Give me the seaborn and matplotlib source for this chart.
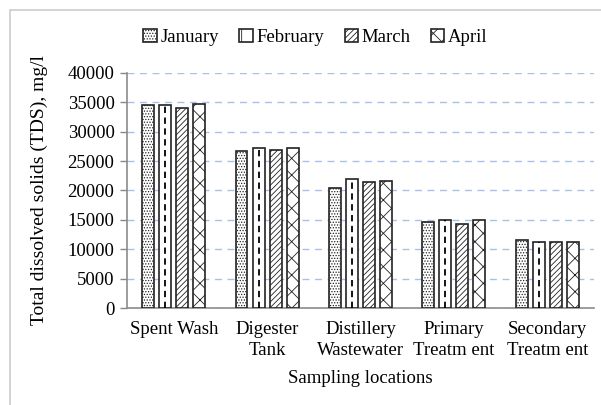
import matplotlib
matplotlib.use("Agg")
import matplotlib.pyplot as plt
import seaborn as sns
import pandas as pd
from matplotlib.patches import Rectangle

locations = ["Spent Wash", "Digester\nTank", "Distillery\nWastewater",
             "Primary\nTreatm ent", "Secondary\nTreatm ent"]
months = ["January", "February", "March", "April"]
january = [34500, 26700, 20500, 14600, 11600]
february = [34500, 27150, 21950, 14900, 11200]
march = [34100, 26950, 21500, 14350, 11200]
april = [34750, 27150, 21650, 14900, 11200]
yticks = [0, 5000, 10000, 15000, 20000, 25000, 30000, 35000, 40000]

rows = []
for m, vals in zip(months, [january, february, march, april]):
    for loc, v in zip(locations, vals):
        rows.append({"location": loc, "month": m, "tds": v})
df = pd.DataFrame(rows)

sns.set_style("white")
plt.rcParams["font.family"] = ["Liberation Serif", "DejaVu Serif"]
plt.rcParams["hatch.linewidth"] = 0.6
plt.rcParams["text.color"] = "black"
plt.rcParams["axes.labelcolor"] = "black"
plt.rcParams["xtick.color"] = "black"
plt.rcParams["ytick.color"] = "black"

FS = 13.5

fig = plt.figure(figsize=(6.01, 4.05), dpi=100)
ax = fig.add_axes([0.2113, 0.2395, 0.7770, 0.5803])

sns.barplot(data=df, x="location", y="tds", hue="month", order=locations,
            hue_order=months, palette=["white"] * 4, width=0.73, gap=0.3,
            edgecolor="#222222", linewidth=1.2, errorbar=None, ax=ax,
            legend=True, zorder=3)

hatches = ["......", "", "//////", "xx"]
for cont, h in zip(ax.containers, hatches):
    for p in cont.patches:
        p.set_hatch(h)
        p.set_zorder(3)

# dashed centre line for February bars
for p in ax.containers[1].patches:
    xc = p.get_x() + p.get_width() / 2
    ax.plot([xc, xc], [0, p.get_height()], color="black", lw=1.3,
            ls=(0, (3.5, 2.5)), zorder=4)

ax.set_ylim(0, 40000)
ax.set_yticks(yticks)
ax.set_yticklabels([str(v) for v in yticks], fontsize=FS)
ax.tick_params(axis="y", which="major", direction="out", length=5,
               color="#888888", labelcolor="black", width=1, pad=4, left=True)
ax.tick_params(axis="x", length=0, labelsize=FS, pad=9, labelcolor="black")
for t in ax.get_xticklabels():
    t.set_linespacing(1.35)
ax.yaxis.grid(True, color="#a9c1ea", ls=(0, (5, 4)), lw=1, zorder=0)
ax.xaxis.grid(False)
for s in ["top", "right"]:
    ax.spines[s].set_visible(False)
for s in ["left", "bottom"]:
    ax.spines[s].set_color("#8c8c8c")
    ax.spines[s].set_linewidth(1.2)
ax.set_xlim(-0.5, 4.5)

ax.set_ylabel("Total dissolved solids (TDS), mg/l", fontsize=14, labelpad=14,
              color="black")
ax.set_xlabel("Sampling locations", fontsize=FS, labelpad=8, color="black")

handles, labels = ax.get_legend_handles_labels()
for hnd, h in zip(handles, ["......", "|", "//////", "xx"]):
    hnd.set_hatch(h)
ax.legend_.remove()
fig.legend(handles, labels, loc="center", bbox_to_anchor=(0.525, 0.908),
           ncol=4, frameon=False, fontsize=FS, handlelength=0.7,
           handleheight=0.7, handletextpad=0.2, columnspacing=1.1,
           labelcolor="black")

fig.patches.append(Rectangle((10 / 601, -0.1), 1.2, 1 - 10 / 405 + 0.1,
                             transform=fig.transFigure, fill=False,
                             edgecolor="#cccccc", lw=1.2))

fig.savefig("out.png", dpi=100)
